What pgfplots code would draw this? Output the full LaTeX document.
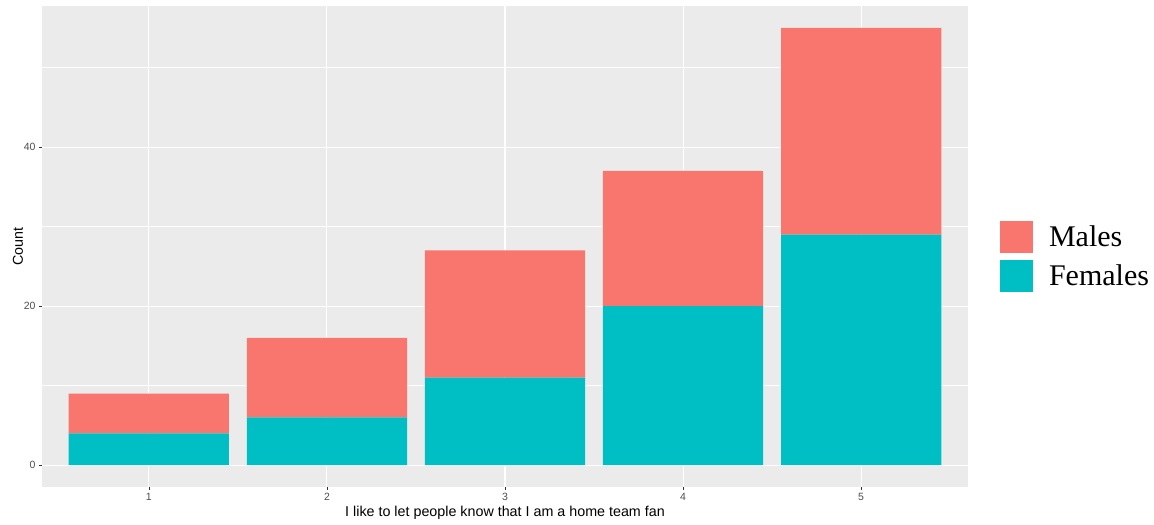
\documentclass[border=0pt]{standalone}
\usepackage{fontspec}
\setmainfont{Liberation Sans}
\newfontfamily\legfont{Liberation Serif}
\usepackage{pgfplots}
\pgfplotsset{compat=1.18}
\definecolor{males}{HTML}{F8766D}
\definecolor{females}{HTML}{00BFC4}
\definecolor{panel}{HTML}{EBEBEB}
\definecolor{tickc}{HTML}{4D4D4D}
\begin{document}
\begin{tikzpicture}
\begin{axis}[scale only axis, width=926pt, height=481pt, clip=false,
 xmin=0.4,xmax=5.6,ymin=-2.75,ymax=57.75,
 ybar stacked, bar width=0.9,
 xtick={1,2,3,4,5}, ytick={0,20,40}, minor ytick={10,30,50},
 grid=both,
 major grid style={white, line width=1.1pt},
 minor grid style={white, line width=0.5pt},
 axis line style={draw=none},
 axis background/.style={fill=panel},
 tick align=outside, major tick length=3pt, minor tick length=0pt,
 xtick pos=bottom, ytick pos=left,
 tick style={color=black!80, line width=0.6pt},
 /pgf/number format/assume math mode=true,
 ticklabel style={font=\fontsize{10.5}{12}\selectfont, color=tickc},
 xlabel={I like to let people know that I am a home team fan}, ylabel={Count},
 every axis x label/.style={at={(axis description cs:0.5,-0.054)}, anchor=center},
 every axis y label/.style={at={(axis description cs:-0.026,0.5)}, rotate=90, anchor=center},
 label style={font=\fontsize{14.3}{16}\selectfont},
 legend style={at={(1.0346,0.48)}, anchor=west, draw=none, fill=none, font=\legfont\fontsize{30}{32}\selectfont, row sep=7pt, column sep=14pt, inner sep=0pt, outer sep=0pt},
 legend cell align=left, reverse legend,
 legend image code/.code={\fill[#1] (0pt,-16pt) rectangle (33pt,16pt);},
]
\addplot[fill=females, draw=none] coordinates {(1,4)(2,6)(3,11)(4,20)(5,29)};
\addplot[fill=males, draw=none] coordinates {(1,5)(2,10)(3,16)(4,17)(5,26)};
\legend{Females, Males}
\path (axis description cs:-0.04536,-0.0790) (axis description cs:1.20086,1.01247);
\end{axis}
\end{tikzpicture}
\end{document}
